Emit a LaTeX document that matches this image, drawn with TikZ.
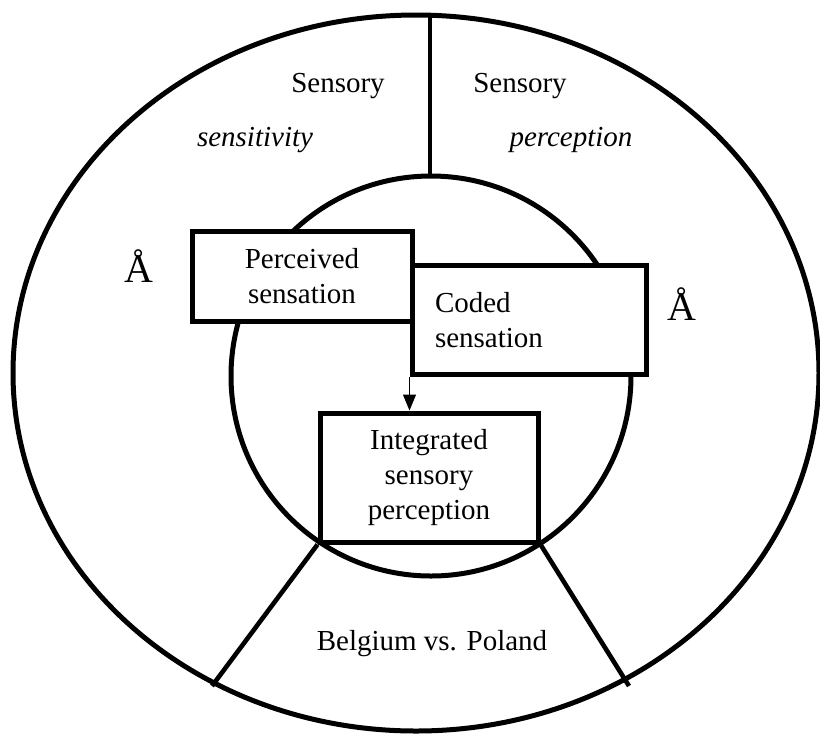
\documentclass[tikz,border=0pt]{standalone}
\usepackage{fontspec}
\setmainfont{Liberation Serif}
\usetikzlibrary{arrows.meta}
\begin{document}
\begin{tikzpicture}[x=0.5pt,y=-0.5pt,
  ring/.style={line width=2.5pt},
  divider/.style={line width=2.3pt},
  stagebox/.style={draw, line width=2.5pt, fill=white, inner sep=0pt,
    align=center, font=\fontsize{14.5}{17.5}\selectfont},
  ringtext/.style={font=\fontsize{14.5}{17}\selectfont, inner sep=0pt, anchor=base},
  mark glyph/.style={font=\fontsize{20}{22}\selectfont, inner sep=0pt, anchor=base},
  flow/.style={line width=0.6pt, -{Triangle[width=6.5pt,length=8pt]}},
]
\useasboundingbox (0,0) rectangle (820,736);

% outer ring and inner disc
\draw[ring] (416,373) ellipse [x radius=403, y radius=358];
\draw[ring] (431,376) circle [radius=200];

% points on the rims where the dividers end
\coordinate (rimTop) at (430,15);
\coordinate (innerTop) at (430,177);
\coordinate (rimLeft) at (212,686);
\coordinate (rimRight) at (629,686);

\draw[divider] (rimTop) -- (innerTop);

% stage boxes
\node[stagebox, minimum width=110pt, minimum height=45pt] (perceived) at (302,276) {Perceived\\sensation};
\node[stagebox, minimum width=117pt, minimum height=54.5pt, text width=94pt,
      align=left, inner xsep=11.5pt] (coded) at (529,320) {Coded\\sensation};
\node[stagebox, minimum width=109pt, minimum height=64.5pt] (integrated) at (429,477.5) {Integrated\\sensory\\perception};

\draw[divider] (integrated.south west) -- (rimLeft);
\draw[divider] (integrated.south east) -- (rimRight);

\draw[flow] (coded.south west) -- (coded.south west |- integrated.north);

% sector texts
\node[ringtext] (sensL) at (338,92) {Sensory};
\node[ringtext] (sensitivity) at (255,146) {\itshape sensitivity};
\node[ringtext] (sensR) at (520,92) {Sensory};
\node[ringtext] (perception) at (571,146) {\itshape perception};
\node[mark glyph] (ringL) at (139,282) {Å};
\node[mark glyph] (ringR) at (682,320) {Å};
\node[ringtext] (match) at (432,650) {Belgium vs. Poland};
\end{tikzpicture}
\end{document}
